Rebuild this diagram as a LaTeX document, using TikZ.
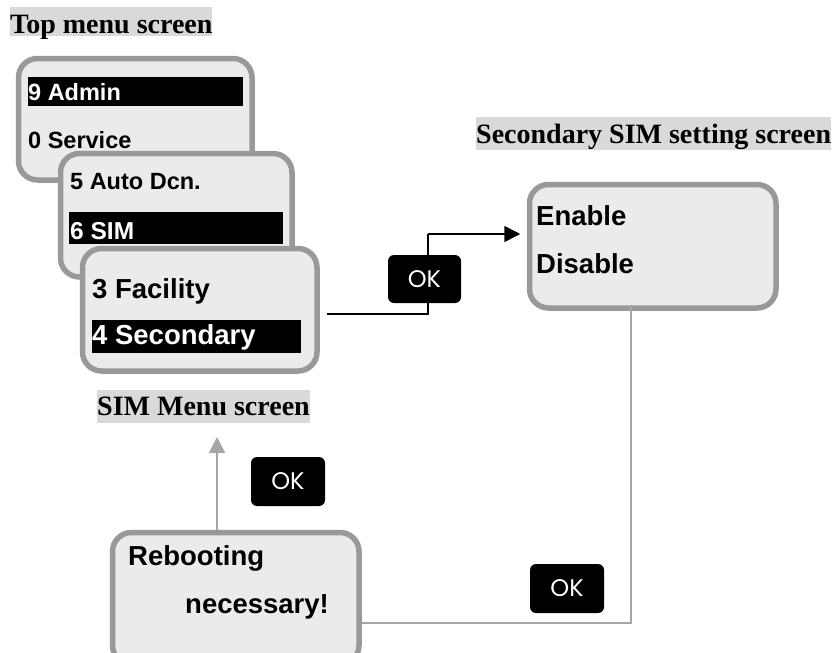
\documentclass[tikz,border=0pt]{standalone}
\usepackage{fontspec}
\setmainfont{Liberation Serif}
\setsansfont{Liberation Sans}
\newfontfamily\okfont{Poppins}
\usetikzlibrary{arrows.meta}
\definecolor{scrfill}{HTML}{EBEBEB}
\definecolor{scrline}{HTML}{999999}
\definecolor{lblfill}{HTML}{D9D9D9}
\definecolor{conngray}{HTML}{A6A6A6}
\tikzset{
  screen/.style={draw=scrline, line width=5.5pt, fill=scrfill, rounded corners=19pt, anchor=north west, inner sep=0pt},
  lbl/.style={fill=lblfill, anchor=north west, inner xsep=0pt, inner ysep=0pt, font=\bfseries\fontsize{28}{30}\selectfont, text=black},
  txt/.style={anchor=base west, inner sep=0pt, font=\sffamily\bfseries\fontsize{#1}{#1}\selectfont},
  txt/.default=27.5,
  bar/.style={fill=black, inner sep=0pt, anchor=north west},
  okbtn/.style={fill=black, rounded corners=6pt, minimum width=74pt, minimum height=49pt, inner sep=0pt, text=white, font=\okfont\fontsize{24}{24}\selectfont},
}
\begin{document}
\begin{tikzpicture}[x=1pt,y=-1pt]
\useasboundingbox (0,0) rectangle (835,653);
% labels
\node[lbl, text height=26pt, text depth=3pt] (l1) at (10,7) {Top menu screen};
\node[lbl, text height=26pt, text depth=7pt] (l2) at (476,117) {Secondary SIM setting screen};
\node[lbl, text height=25pt, text depth=8pt] (l3) at (97,390) {SIM Menu screen};
% connectors behind
\coordinate (c1) at (631,305);
\coordinate (c2) at (631,623);
\coordinate (s1) at (327,314);
\coordinate (k1) at (428,314);
\coordinate (k2) at (428,234);
% box 1
\node[screen, minimum width=233.5pt, minimum height=121.5pt] (b1) at (15.75,55.75) {};
\node[bar, minimum width=215pt, minimum height=29pt] (h1) at (28,77) {};
\node[txt=23.5, text=white] (t1a) at (28,100) {9 Admin};
\node[txt=23.5] (t1b) at (28,148) {0 Service};
% box 2
\node[screen, minimum width=231.5pt, minimum height=123.5pt] (b2) at (57.75,150.75) {};
\node[bar, minimum width=214pt, minimum height=32pt] (h2) at (69,212) {};
\node[txt=23.5] (t2a) at (70,189) {5 Auto Dcn.};
\node[txt=24.5, text=white] (t2b) at (70,239) {6 SIM};
% box 3
\node[screen, minimum width=234.5pt, minimum height=122.5pt] (b3) at (79.75,245.75) {};
\node[bar, minimum width=209pt, minimum height=33pt] (h3) at (92,320) {};
\node[txt] (t3a) at (92,298) {3 Facility};
\node[txt, text=white] (t3b) at (92,344) {4 Secondary};
% box 4
\node[screen, minimum width=246.5pt, minimum height=123.5pt] (b4) at (526.75,181.75) {};
\node[txt] (t4a) at (536,225) {Enable};
\node[txt] (t4b) at (536,273) {Disable};
% connectors
\draw[black, line width=1.5pt] (s1) -- (k1) -- (k2);
\draw[black, line width=1.5pt, shorten >=6.5pt, -{Triangle[length=16pt,width=16pt]}] (k2) -- (k2 -| b4.west);
\draw[conngray, line width=1.5pt] (c1) -- (c2) -- (357,623);
% reboot box
\node[screen, minimum width=246.5pt, minimum height=132pt] (b5) at (109.75,529.75) {};
\node[txt] (t5a) at (128,565) {Rebooting};
\node[txt] (t5b) at (185,613) {necessary!};
\draw[conngray, line width=2pt, -{Triangle[length=16pt,width=16pt]}] (b5.north -| 217,0) -- (217,437);
% OK buttons
\node[okbtn, minimum width=73pt, minimum height=48pt] (ok1) at (424.5,279) {OK};
\node[okbtn] (ok2) at (288,481.5) {OK};
\node[okbtn] (ok3) at (567,588.5) {OK};
\end{tikzpicture}
\end{document}
